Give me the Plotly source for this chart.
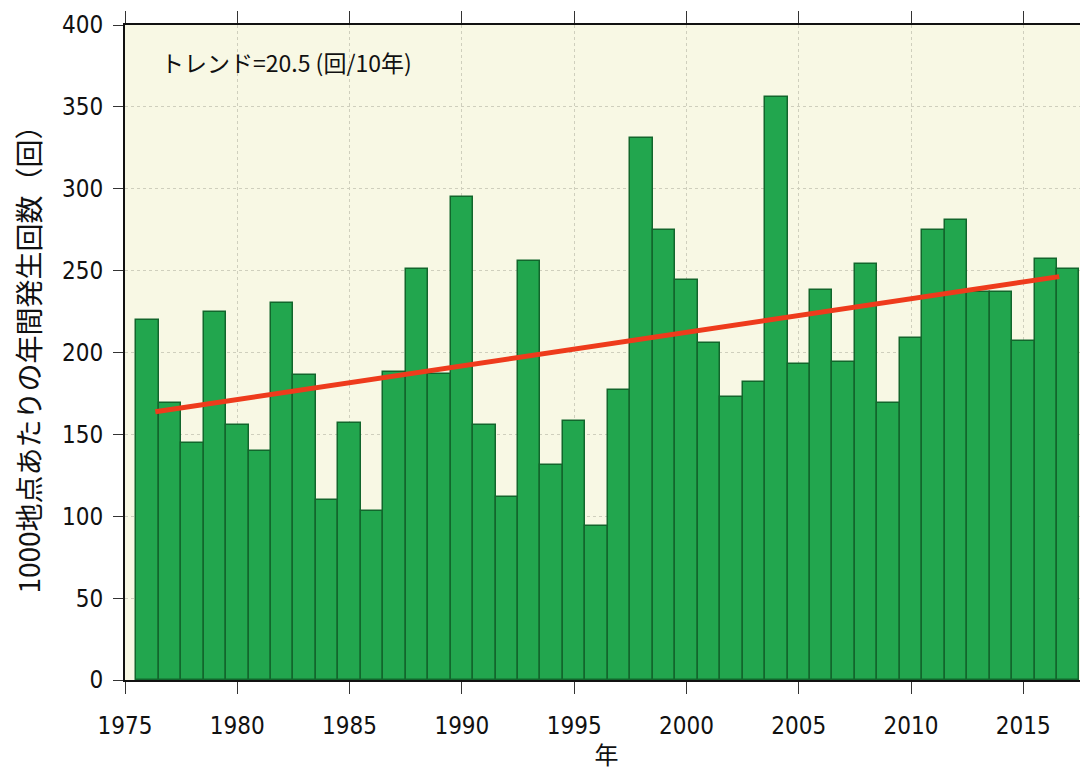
import numpy as np
import plotly.graph_objects as go

# ---- data ----
years = list(range(1976, 2018))
counts = [220, 169, 145, 225, 156, 140, 230, 186, 110, 157,
          103, 188, 251, 187, 295, 156, 112, 256, 131, 158,
          94, 177, 331, 275, 244, 206, 173, 182, 356, 193,
          238, 194, 254, 169, 209, 275, 281, 237, 237, 207,
          257, 251]
x_ticks = [1975, 1980, 1985, 1990, 1995, 2000, 2005, 2010, 2015]
y_ticks = [0, 50, 100, 150, 200, 250, 300, 350, 400]
trend_label = "トレンド=20.5 (回/10年)"
y_title = "1000地点あたりの年間発生回数（回）"
x_title = "年"

# linear trend from the data
slope, intercept = np.polyfit(years, counts, 1)
tx = [years[0] + 0.35, years[-1] - 0.4]
ty = [slope * v + intercept for v in tx]

tick_font = dict(family="DejaVu Sans Condensed, Liberation Sans Narrow, Arial Narrow, sans-serif",
                 size=24, color="#111111")
jp_font = "Noto Sans CJK JP, sans-serif"

fig = go.Figure()
fig.add_trace(go.Bar(
    x=years, y=counts, width=1.0,
    marker=dict(color="#22a64e", line=dict(color="#12662c", width=1.5)),
    showlegend=False,
))
fig.add_trace(go.Scatter(
    x=tx, y=ty, mode="lines",
    line=dict(color="#ee3b1c", width=5),
    showlegend=False,
))

fig.add_annotation(
    text=trend_label, xref="paper", yref="paper",
    x=0.035, y=0.943, xanchor="left", yanchor="middle",
    showarrow=False, font=dict(family=jp_font, size=23, color="#111111"),
)

# page body has an 8px margin, so the figure is sized/offset to compensate
fig.update_layout(
    template="none",
    width=1080, height=763,
    margin=dict(l=117, r=0, t=17, b=91, autoexpand=False),
    paper_bgcolor="white",
    plot_bgcolor="#f8f8e4",
    bargap=0,
    xaxis=dict(
        automargin=False,
        range=[1975, 2017.88], tickvals=x_ticks, ticktext=[str(v) for v in x_ticks],
        showline=True, linecolor="#111111", linewidth=2, mirror="ticks",
        ticks="outside", ticklen=12, tickcolor="#333333", tickwidth=1,
        ticklabelstandoff=11,
        showgrid=True, gridcolor="#cfcfbd", griddash="dot", gridwidth=1,
        tickfont=tick_font, zeroline=False,
        title=dict(text=x_title, font=dict(family=jp_font, size=24, color="#111111"), standoff=8),
    ),
    yaxis=dict(
        automargin=False,
        range=[0, 400], tickvals=y_ticks,
        showline=True, linecolor="#111111", linewidth=2,
        ticks="outside", ticklen=10, tickcolor="#333333", tickwidth=1,
        ticklabelstandoff=5,
        showgrid=True, gridcolor="#cfcfbd", griddash="dot", gridwidth=1,
        tickfont=tick_font, zeroline=False,
        title=dict(text=y_title, font=dict(family=jp_font, size=28, color="#111111"), standoff=14),
    ),
)

fig.write_html("out.html")
